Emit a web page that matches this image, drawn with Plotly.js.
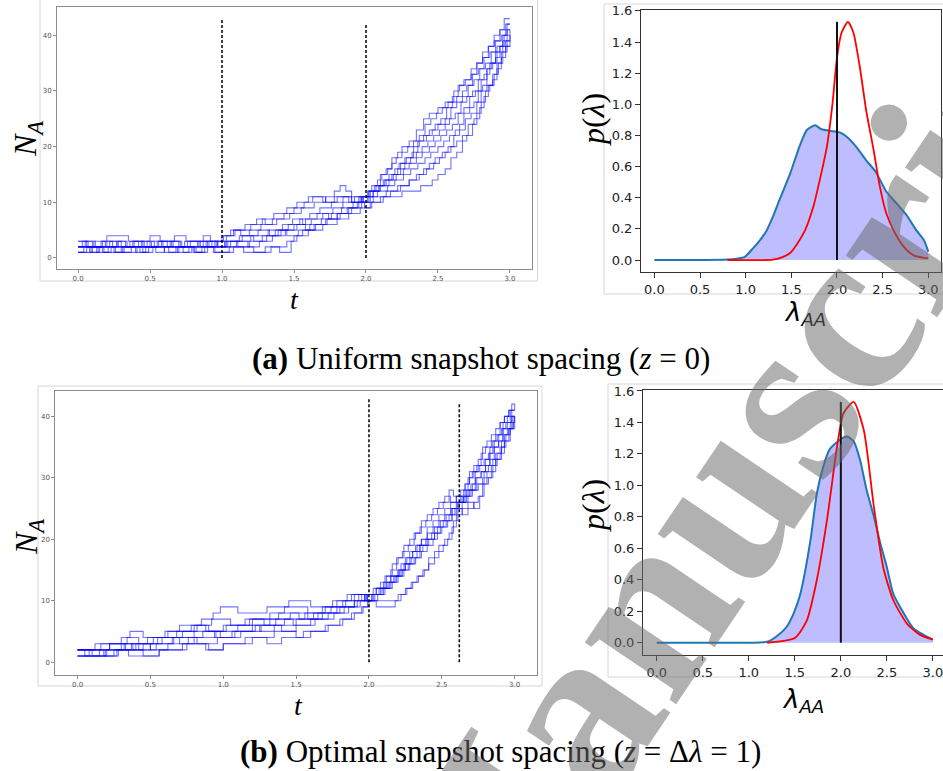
<!DOCTYPE html>
<html>
<head>
<meta charset="utf-8">
<script src="https://cdn.plot.ly/plotly-3.0.1.min.js"></script>
<style>html,body{margin:0;padding:0;background:#fff;}#chart{width:943px;height:771px;}</style>
</head>
<body>
<div id="chart"></div>
<script>
// ---------- DATA ----------
// (a) uniform snapshot spacing: sampled trajectories N_A(t)
const topTimes = [
 [0,0.08,0.15,0.27,0.33,0.45,0.52,0.66,0.71,0.84,0.93,1.02,1.12,1.25,1.33,1.41,1.5,1.58,1.66,1.74,1.8,1.88,1.95,2.03,2.08,2.15,2.2,2.26,2.31,2.36,2.41,2.45,2.5,2.54,2.58,2.62,2.65,2.68,2.72,2.75,2.78,2.81,2.84,2.87,2.9,2.93,2.96,2.98,3.0],
 [0,0.06,0.17,0.2,0.35,0.42,0.55,0.62,0.78,0.9,0.97,1.03,1.09,1.2,1.28,1.36,1.45,1.52,1.6,1.7,1.78,1.9,1.97,2.02,2.06,2.1,2.14,2.18,2.22,2.25,2.3,2.35,2.4,2.44,2.5,2.55,2.6,2.64,2.68,2.73,2.77,2.81,2.85,2.89,2.93,2.96,3.0],
 [0,0.1,0.18,0.3,0.4,0.47,0.6,0.68,0.8,0.88,0.95,1.05,1.15,1.3,1.4,1.48,1.52,1.6,1.7,1.8,1.88,1.96,2.03,2.12,2.25,2.38,2.46,2.5,2.55,2.59,2.63,2.67,2.7,2.74,2.77,2.8,2.83,2.86,2.89,2.92,2.95,2.98,3.0],
 [0,0.05,0.12,0.22,0.3,0.38,0.5,0.57,0.7,0.76,0.87,0.92,1.0,1.08,1.16,1.24,1.3,1.38,1.47,1.55,1.64,1.72,1.78,1.82,1.86,1.9,1.98,2.02,2.05,2.09,2.12,2.16,2.2,2.23,2.27,2.32,2.36,2.4,2.44,2.48,2.52,2.56,2.6,2.63,2.67,2.7,2.74,2.78,2.82,2.86,2.9,2.94,2.97,3.0],
 [0,0.09,0.14,0.25,0.32,0.44,0.5,0.63,0.7,0.82,0.9,1.04,1.18,1.26,1.35,1.44,1.52,1.58,1.65,1.73,1.8,1.87,1.94,1.99,2.04,2.1,2.17,2.24,2.3,2.35,2.4,2.44,2.48,2.53,2.57,2.61,2.65,2.69,2.73,2.77,2.8,2.84,2.88,2.91,2.94,2.97,3.0],
 [0,0.07,0.16,0.24,0.36,0.46,0.54,0.6,0.74,0.85,0.95,1.02,1.1,1.2,1.32,1.42,1.49,1.56,1.62,1.7,1.77,1.84,1.92,1.97,2.01,2.05,2.1,2.14,2.19,2.24,2.28,2.33,2.37,2.42,2.46,2.5,2.55,2.59,2.63,2.67,2.71,2.75,2.79,2.83,2.87,2.91,2.95,2.98,3.0],
 [0,0.04,0.13,0.21,0.28,0.34,0.43,0.49,0.58,0.65,0.73,0.79,0.89,0.96,1.06,1.14,1.22,1.31,1.39,1.46,1.54,1.61,1.68,1.76,1.84,1.9,1.96,2.02,2.07,2.13,2.18,2.22,2.27,2.31,2.35,2.39,2.43,2.47,2.51,2.55,2.58,2.62,2.66,2.7,2.74,2.78,2.82,2.86,2.9,2.93,2.97,3.0],
 [0,0.11,0.19,0.26,0.37,0.48,0.53,0.64,0.72,0.81,0.86,0.94,1.08,1.22,1.34,1.45,1.5,1.56,1.64,1.72,1.82,1.9,1.97,2.05,2.14,2.22,2.3,2.37,2.42,2.47,2.51,2.55,2.59,2.63,2.67,2.71,2.75,2.79,2.82,2.85,2.88,2.91,2.94,2.97,3.0],
 [0,0.03,0.1,0.2,0.27,0.39,0.45,0.56,0.67,0.75,0.83,0.91,1.01,1.06,1.13,1.19,1.27,1.35,1.43,1.5,1.57,1.63,1.72,1.8,1.88,1.95,2.01,2.04,2.08,2.11,2.15,2.18,2.21,2.25,2.29,2.33,2.37,2.41,2.45,2.49,2.53,2.57,2.61,2.65,2.69,2.73,2.77,2.81,2.85,2.89,2.93,2.97,3.0],
 [0,0.06,0.17,0.23,0.31,0.41,0.51,0.59,0.69,0.77,0.87,0.97,1.03,1.11,1.19,1.28,1.37,1.45,1.53,1.61,1.69,1.76,1.83,1.91,1.98,2.03,2.09,2.16,2.21,2.26,2.3,2.35,2.39,2.44,2.48,2.52,2.56,2.6,2.64,2.68,2.72,2.76,2.8,2.84,2.88,2.91,2.95,2.98,3.0]
];
const topCounts = [
 [2,1,2,3,2,1,2,3,2,3,2,3,4,5,4,5,6,7,8,7,8,9,10,11,12,13,14,15,16,17,18,19,20,21,22,23,24,26,27,28,30,31,34,35,37,38,40,41,41],
 [3,2,3,4,3,2,3,2,3,2,3,4,5,6,7,8,9,10,11,10,11,10,11,12,13,15,16,18,19,20,21,23,25,26,27,28,29,31,32,34,35,37,38,40,41,43,43],
 [1,2,1,2,1,2,1,2,1,2,1,2,1,2,1,3,4,5,6,7,8,9,10,11,12,13,14,15,16,18,19,21,22,24,26,28,30,31,33,35,37,39,40],
 [2,3,2,3,2,3,4,3,2,3,4,3,4,5,6,7,6,7,8,9,10,11,12,13,12,11,10,11,12,13,14,15,16,17,18,19,21,22,23,24,25,27,28,29,30,31,33,34,36,37,39,40,41,41],
 [2,1,2,1,2,3,2,1,2,1,2,3,2,3,4,5,6,5,6,7,8,9,10,9,10,11,12,13,14,15,16,17,18,19,20,22,23,25,26,28,30,31,33,35,37,38,39],
 [3,2,3,2,3,2,1,2,3,2,3,2,3,4,5,6,7,6,7,8,9,10,11,10,11,12,13,14,15,17,18,20,21,22,23,24,25,27,28,29,31,32,34,35,37,38,40,42,42],
 [1,2,1,2,3,2,1,2,3,2,1,2,3,2,3,4,3,4,5,6,7,8,9,10,11,10,11,12,13,14,15,16,17,18,19,20,21,22,23,24,25,26,28,29,30,32,33,35,36,38,39,40],
 [2,3,2,1,2,3,2,3,2,1,2,1,2,1,2,3,4,5,6,7,8,9,10,11,12,13,14,15,16,17,18,19,20,21,22,24,25,27,29,31,32,34,36,38,38],
 [2,3,2,3,2,3,2,3,4,3,2,3,4,5,4,5,6,7,8,9,10,11,10,11,10,11,12,13,14,15,16,17,18,19,20,21,22,24,25,26,27,28,30,31,32,33,35,36,38,39,41,42,42],
 [1,2,1,2,1,2,3,2,1,2,3,2,3,2,3,4,5,4,5,6,7,8,9,10,11,12,13,14,15,16,17,18,19,20,21,22,23,24,26,27,29,30,32,34,35,37,39,40,41]
];
// (b) optimal snapshot spacing: sampled trajectories N_A(t)
const bottomTimes = [
 [0,0.18,0.27,0.4,0.55,0.7,0.8,0.95,1.1,1.25,1.35,1.5,1.65,1.78,1.9,1.97,2.05,2.12,2.17,2.21,2.25,2.29,2.33,2.37,2.41,2.45,2.49,2.53,2.57,2.61,2.65,2.68,2.71,2.74,2.77,2.8,2.83,2.86,2.89,2.92,2.95,2.98,3.0],
 [0,0.12,0.3,0.36,0.45,0.6,0.7,0.85,0.93,0.98,1.1,1.3,1.45,1.6,1.75,1.85,1.95,2.02,2.07,2.11,2.15,2.19,2.23,2.27,2.31,2.35,2.39,2.43,2.47,2.51,2.55,2.58,2.62,2.65,2.68,2.71,2.74,2.77,2.8,2.84,2.87,2.9,2.93,2.96,2.98,3.0],
 [0,0.2,0.35,0.56,0.75,0.9,1.0,1.15,1.3,1.4,1.55,1.7,1.8,1.88,1.95,1.99,2.05,2.18,2.22,2.26,2.3,2.34,2.38,2.41,2.45,2.48,2.52,2.55,2.58,2.61,2.64,2.68,2.72,2.75,2.78,2.81,2.84,2.87,2.9,2.93,2.96,2.99,3.0],
 [0,0.1,0.25,0.32,0.48,0.62,0.78,0.88,1.0,1.2,1.38,1.52,1.62,1.74,1.84,1.93,1.98,2.04,2.1,2.14,2.18,2.22,2.26,2.3,2.33,2.36,2.4,2.44,2.48,2.52,2.56,2.6,2.63,2.66,2.69,2.72,2.75,2.79,2.82,2.85,2.88,2.91,2.94,2.97,3.0],
 [0,0.15,0.22,0.38,0.5,0.65,0.82,0.96,1.08,1.22,1.4,1.5,1.63,1.76,1.86,1.94,2.03,2.08,2.13,2.19,2.24,2.28,2.32,2.36,2.4,2.44,2.47,2.5,2.54,2.57,2.6,2.64,2.68,2.71,2.75,2.79,2.82,2.85,2.88,2.91,2.94,2.97,3.0],
 [0,0.22,0.33,0.45,0.58,0.72,0.8,0.92,1.05,1.18,1.32,1.42,1.58,1.7,1.82,1.9,1.99,2.06,2.11,2.15,2.2,2.24,2.28,2.32,2.36,2.4,2.44,2.48,2.52,2.56,2.6,2.64,2.67,2.7,2.73,2.76,2.8,2.83,2.86,2.89,2.92,2.95,2.98,3.0],
 [0,0.28,0.45,0.56,0.72,0.88,1.0,1.2,1.35,1.5,1.6,1.72,1.82,1.9,1.96,2.0,2.07,2.2,2.25,2.29,2.33,2.37,2.41,2.45,2.48,2.51,2.54,2.57,2.6,2.64,2.68,2.72,2.76,2.79,2.82,2.85,2.88,2.91,2.94,2.97,3.0],
 [0,0.16,0.34,0.42,0.52,0.68,0.82,0.9,1.02,1.15,1.28,1.42,1.56,1.68,1.78,1.88,1.97,2.02,2.09,2.16,2.2,2.23,2.27,2.31,2.35,2.39,2.43,2.47,2.51,2.55,2.59,2.62,2.66,2.7,2.74,2.78,2.81,2.84,2.87,2.9,2.93,2.96,2.99,3.0],
 [0,0.08,0.3,0.42,0.54,0.66,0.8,0.94,1.06,1.2,1.32,1.46,1.58,1.68,1.8,1.9,1.98,2.03,2.08,2.12,2.16,2.2,2.24,2.28,2.32,2.36,2.4,2.44,2.48,2.52,2.56,2.6,2.63,2.66,2.69,2.72,2.75,2.78,2.81,2.84,2.87,2.9,2.93,2.96,3.0],
 [0,0.05,0.19,0.37,0.5,0.62,0.76,0.86,0.98,1.12,1.26,1.36,1.48,1.6,1.72,1.83,1.92,1.99,2.05,2.1,2.15,2.2,2.25,2.3,2.35,2.4,2.45,2.49,2.53,2.57,2.61,2.65,2.69,2.73,2.77,2.8,2.83,2.86,2.89,2.92,2.95,2.98,3.0]
];
const bottomCounts = [
 [2,1,2,3,4,3,4,5,6,5,6,7,8,9,10,11,12,13,14,15,16,17,18,19,20,22,23,24,25,26,27,28,29,30,31,32,33,35,36,37,38,40,40],
 [2,3,4,5,4,5,6,7,8,9,8,9,10,9,10,11,10,11,12,14,15,17,18,19,21,22,23,24,25,26,28,27,27,28,30,31,32,34,35,36,37,39,40,41,42,41],
 [1,2,1,2,3,2,3,4,3,4,5,6,7,8,9,10,9,10,11,12,13,14,15,17,18,19,20,21,23,25,24,25,26,27,29,30,31,33,34,36,38,40,40],
 [2,1,2,3,4,5,6,5,6,7,8,7,8,9,10,11,10,11,12,13,14,16,17,18,19,20,21,22,23,24,25,26,27,29,30,31,32,33,34,36,37,38,39,41,41],
 [1,2,3,2,3,4,3,4,5,6,5,6,7,8,9,10,11,12,13,14,15,16,17,18,19,20,21,22,23,24,25,26,27,28,29,31,32,33,34,36,37,39,40],
 [2,3,2,3,4,5,6,7,6,7,8,9,8,9,10,11,10,11,12,14,15,16,18,19,20,22,23,24,25,26,27,26,28,29,31,32,33,35,36,37,39,40,41,41],
 [1,2,1,2,3,2,3,4,5,4,5,6,7,8,9,10,10,11,12,13,14,15,16,17,18,19,20,22,24,25,26,25,27,29,30,32,33,35,36,38,40],
 [2,3,4,3,4,5,6,5,6,7,6,7,8,9,10,11,10,11,12,13,14,15,16,17,19,20,21,22,23,24,25,26,27,28,29,30,31,32,34,35,37,38,39,39],
 [1,2,3,2,3,4,5,4,5,6,7,8,7,8,9,10,11,12,13,14,16,17,19,20,21,23,24,25,26,27,26,27,28,29,31,32,33,35,36,37,38,39,40,41,41],
 [2,1,2,3,2,3,4,5,4,5,6,7,6,7,8,9,10,11,12,13,14,15,17,18,19,20,21,22,23,25,26,27,28,30,31,32,34,35,36,38,39,40,40]
];
const topSnapshotTimes = [1.0, 2.0];
const bottomSnapshotTimes = [2.0, 2.62];
const snapshotLineHeights = [43, 42];

// posterior (blue, filled) and reference density (red) of lambda_AA
const topPostLambda = [0,0.5,0.8,0.9,0.99,1.08,1.16,1.23,1.30,1.38,1.49,1.59,1.67,1.76,1.83,1.92,2.03,2.11,2.22,2.32,2.42,2.54,2.65,2.76,2.87,2.95,3.0];
const topPostDensity = [0,0,0.003,0.008,0.02,0.075,0.13,0.19,0.28,0.40,0.56,0.73,0.835,0.865,0.84,0.83,0.82,0.79,0.72,0.64,0.57,0.44,0.365,0.29,0.19,0.13,0.054];
const topRefLambda = [0.8,1.3,1.41,1.49,1.56,1.65,1.74,1.81,1.89,1.95,2.0,2.05,2.12,2.18,2.25,2.32,2.40,2.47,2.54,2.62,2.73,2.84,3.0];
const topRefDensity = [0,0.002,0.02,0.047,0.1,0.19,0.34,0.51,0.73,1.0,1.3,1.46,1.53,1.46,1.24,0.96,0.71,0.47,0.30,0.19,0.086,0.03,0.01];
const bottomPostLambda = [0,0.6,1.2,1.30,1.41,1.49,1.56,1.67,1.74,1.81,1.88,1.99,2.07,2.14,2.21,2.28,2.36,2.43,2.5,2.57,2.68,2.79,2.9,3.0];
const bottomPostDensity = [0,0,0.006,0.04,0.1,0.19,0.31,0.65,0.95,1.12,1.23,1.29,1.31,1.28,1.16,0.97,0.80,0.63,0.48,0.31,0.19,0.09,0.05,0.02];
const bottomRefLambda = [1.2,1.5,1.63,1.74,1.85,1.96,2.03,2.14,2.25,2.36,2.46,2.57,2.72,2.86,3.0];
const bottomRefDensity = [0,0.03,0.14,0.4,0.78,1.25,1.46,1.53,1.35,0.86,0.48,0.27,0.12,0.05,0.02];
const trueLambda = 2.0;
const trueLineHeight = 1.53;

const lambdaTicks = [0,0.5,1.0,1.5,2.0,2.5,3.0];
const densityTicks = [0,0.2,0.4,0.6,0.8,1.0,1.2,1.4,1.6];
const countTicks = [0,10,20,30,40];
const timeTicks = [0,0.5,1.0,1.5,2.0,2.5,3.0];

// ---------- TRACES ----------
const traces = [];
function addTrajectories(times, counts, xa, ya) {
  for (let i = 0; i < times.length; i++) {
    traces.push({x: times[i], y: counts[i], xaxis: xa, yaxis: ya, type: 'scatter', mode: 'lines',
      line: {shape: 'hv', color: 'rgba(0,0,255,0.55)', width: 1.1}});
  }
}
function addSnapshots(snaps, xa, ya) {
  snaps.forEach((s, k) => traces.push({x: [s, s], y: [0, snapshotLineHeights[k]], xaxis: xa, yaxis: ya,
    type: 'scatter', mode: 'lines', line: {color: '#111', width: 1.6, dash: '3px,2px'}}));
}
function addDensity(pl, pd, rl, rd, xa, ya) {
  traces.push({x: pl, y: pd, xaxis: xa, yaxis: ya, type: 'scatter', mode: 'lines', fill: 'tozeroy',
    fillcolor: 'rgba(0,0,255,0.26)', line: {color: '#1f77b4', width: 2, shape: 'spline', smoothing: 0.6}});
  traces.push({x: rl, y: rd, xaxis: xa, yaxis: ya, type: 'scatter', mode: 'lines',
    line: {color: '#ff0000', width: 1.8, shape: 'spline', smoothing: 0.6}});
  traces.push({x: [trueLambda, trueLambda], y: [0, trueLineHeight], xaxis: xa, yaxis: ya, type: 'scatter',
    mode: 'lines', line: {color: '#111', width: 2}});
}
addTrajectories(topTimes, topCounts, 'x', 'y');
addSnapshots(topSnapshotTimes, 'x', 'y');
addDensity(topPostLambda, topPostDensity, topRefLambda, topRefDensity, 'x2', 'y2');
addTrajectories(bottomTimes, bottomCounts, 'x3', 'y3');
addSnapshots(bottomSnapshotTimes, 'x3', 'y3');
addDensity(bottomPostLambda, bottomPostDensity, bottomRefLambda, bottomRefDensity, 'x4', 'y4');

// ---------- LAYOUT ----------
const W = 943, H = 771;
const px = v => v / W, py = v => 1 - v / H;
function leftAxis(dom, range, ticks, fmt, anchor) {
  return {domain: dom, range: range, anchor: anchor, tickvals: ticks, tickformat: fmt, showgrid: false, zeroline: false,
    showline: true, mirror: true, linecolor: '#8c8c8c', linewidth: 1, ticks: 'outside', ticklen: 3,
    tickcolor: '#8c8c8c', tickfont: {family: 'DejaVu Sans', size: 7, color: '#555'}, ticklabeloverflow: 'allow'};
}
function rightAxis(dom, range, ticks, anchor) {
  return {domain: dom, range: range, anchor: anchor, tickvals: ticks, tickformat: '.1f', showgrid: false, zeroline: false,
    showline: true, mirror: true, linecolor: '#333', linewidth: 1, ticks: 'outside', ticklen: 5,
    tickcolor: '#333', tickfont: {family: 'DejaVu Sans', size: 13, color: '#222'}, ticklabeloverflow: 'allow'};
}
const serif = 'Liberation Serif';
function ann(text, x, y, size, family, angle) {
  return {text: text, x: px(x), y: py(y), xref: 'paper', yref: 'paper', xanchor: 'center', yanchor: 'middle',
    showarrow: false, textangle: angle || 0, font: {family: family, size: size, color: '#000'}};
}
function frame(x0, y0, x1, y1) {
  return {type: 'rect', xref: 'paper', yref: 'paper', x0: px(x0), x1: px(x1), y0: py(y1), y1: py(y0),
    line: {color: '#d6d6d6', width: 1}, fillcolor: 'rgba(0,0,0,0)', layer: 'below'};
}
const layout = {
  width: W, height: H, margin: {l: 0, r: 0, t: 0, b: 0}, paper_bgcolor: '#fff', plot_bgcolor: '#fff',
  showlegend: false, hovermode: false,
  xaxis: leftAxis([px(57), px(532)], [-0.146, 3.153], timeTicks, '.1f', 'y'),
  yaxis: leftAxis([py(269), py(7)], [-1.98, 45.08], countTicks, 'd', 'x'),
  xaxis2: rightAxis([px(641), px(941)], [-0.146, 3.139], lambdaTicks, 'y2'),
  yaxis2: rightAxis([py(272), py(10)], [-0.077, 1.606], densityTicks, 'x2'),
  xaxis3: leftAxis([px(55.4), px(536.8)], [-0.152, 3.152], timeTicks, '.1f', 'y3'),
  yaxis3: leftAxis([py(674.6), py(390.7)], [-2.03, 44.18], countTicks, 'd', 'x3'),
  xaxis4: rightAxis([px(643), 1], [-0.149, 3.11], lambdaTicks, 'y4'),
  yaxis4: rightAxis([py(655), py(390)], [-0.078, 1.606], densityTicks, 'x4'),
  shapes: [frame(40, -2, 537.5, 281), frame(604, 4, 950, 294), frame(38, 386, 542, 686), frame(608, 384, 950, 677)],
  annotations: [
    ann('<i>N</i><sub><i>A</i></sub>', 27, 139, 32, serif, -90),
    ann('<i>t</i>', 294, 300, 28, serif),
    ann('<i>p</i>(<i>λ</i>)', 593, 120, 32, serif, -90),
    ann('<i>λ</i><sub><i>AA</i></sub>', 805, 313, 26, 'DejaVu Sans'),
    ann('<b>(a)</b> Uniform snapshot spacing (<i>z</i> = 0)', 481, 358, 31, serif),
    ann('<i>N</i><sub><i>A</i></sub>', 28, 537, 32, serif, -90),
    ann('<i>t</i>', 298, 705, 28, serif),
    ann('<i>p</i>(<i>λ</i>)', 593, 506, 32, serif, -90),
    ann('<i>λ</i><sub><i>AA</i></sub>', 803, 700, 26, 'DejaVu Sans'),
    ann('<b>(b)</b> Optimal snapshot spacing (<i>z</i> = Δ<i>λ</i> = 1)', 501, 751, 31, serif),
    {text: '<b>Manuscript</b>', x: px(747), y: py(454), xref: 'paper', yref: 'paper', xanchor: 'center', yanchor: 'middle',
     showarrow: false, textangle: -56, font: {family: serif, size: 240, color: 'rgba(105,105,105,0.52)'}}
  ]
};
Plotly.newPlot('chart', traces, layout, {staticPlot: true, displayModeBar: false});
</script>
</body>
</html>
